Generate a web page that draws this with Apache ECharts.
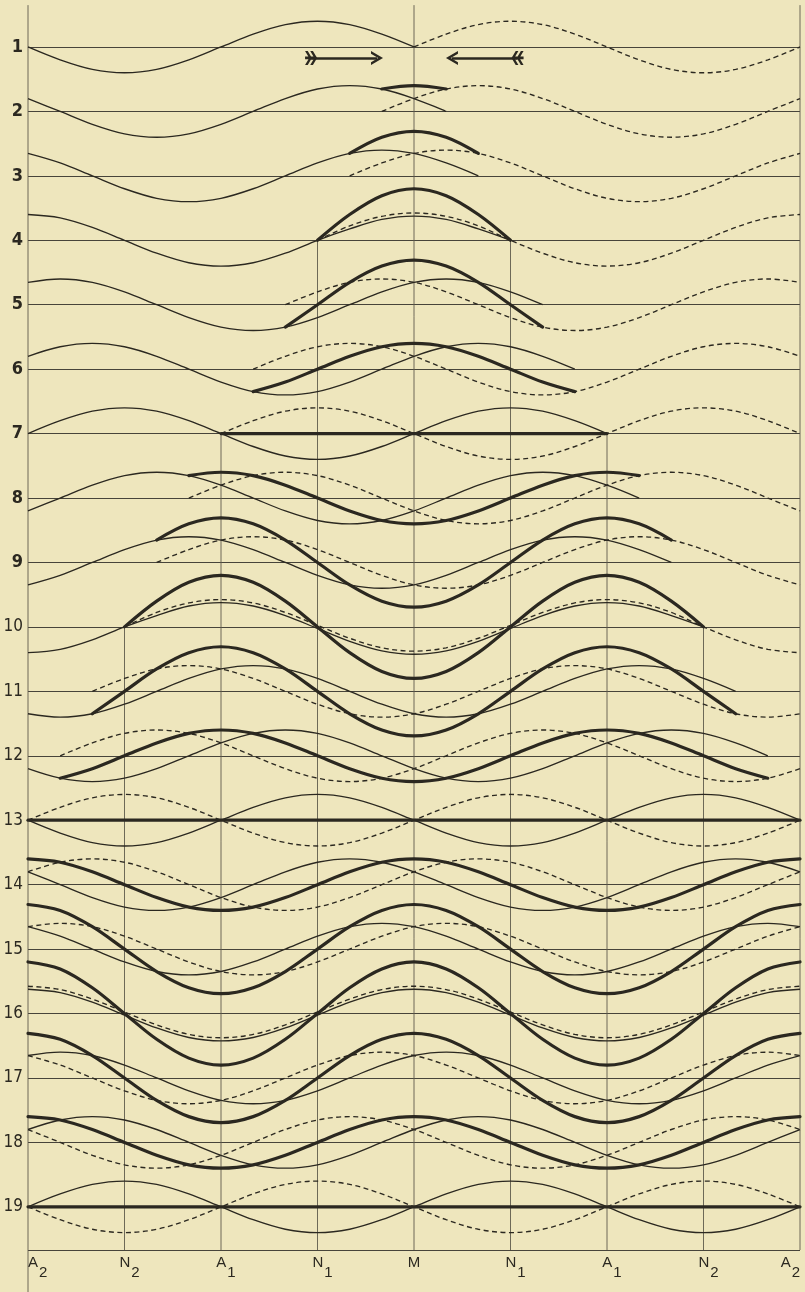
<!DOCTYPE html>
<html>
<head>
<meta charset="utf-8">
<script src="https://cdn.jsdelivr.net/npm/echarts@6/dist/echarts.min.js"></script>
<style>
html,body{margin:0;padding:0;background:#eee6bd;}
#chart{width:805px;height:1292px;}
</style>
</head>
<body>
<div id="chart"></div>
<script>
// ---------------- DATA ----------------
// Row numbers (time steps), 1..19
const rowNumbers = [1,2,3,4,5,6,7,8,9,10,11,12,13,14,15,16,17,18,19];

// Bottom axis: positions in twelfths of a wavelength (A2 = 0 ... M = 12 ... A2 = 24)
const xTickLetters = ['A','N','A','N','M','N','A','N','A'];
const xTickSubs    = ['2','2','1','1','','1','1','2','2'];

// Displacements (in wave amplitudes) sampled every 1/12 wavelength.
// Solid wave (travelling right): each row starts at x = 0.
const solidWave = [
  [0,-.5,-.87,-1,-.87,-.5,0,.5,.87,1,.87,.5,0],
  [.5,0,-.5,-.87,-1,-.87,-.5,0,.5,.87,1,.87,.5,0],
  [.87,.5,0,-.5,-.87,-1,-.87,-.5,0,.5,.87,1,.87,.5,0],
  [1,.87,.5,0,-.5,-.87,-1,-.87,-.5,0,.44,.81,.94,.81,.44,0],
  [.87,1,.87,.5,0,-.5,-.87,-1,-.87,-.5,0,.5,.87,1,.87,.5,0],
  [.5,.87,1,.87,.5,0,-.5,-.87,-1,-.87,-.5,0,.5,.87,1,.87,.5,0],
  [0,.5,.87,1,.87,.5,0,-.5,-.87,-1,-.87,-.5,0,.5,.87,1,.87,.5,0],
  [-.5,0,.5,.87,1,.87,.5,0,-.5,-.87,-1,-.87,-.5,0,.5,.87,1,.87,.5,0],
  [-.87,-.5,0,.5,.87,1,.87,.5,0,-.5,-.87,-1,-.87,-.5,0,.5,.87,1,.87,.5,0],
  [-1,-.87,-.5,0,.44,.81,.94,.81,.44,-.06,-.56,-.93,-1.06,-.93,-.56,-.06,.44,.81,.94,.81,.44,0],
  [-.87,-1,-.87,-.5,0,.5,.87,1,.87,.5,0,-.5,-.87,-1,-.87,-.5,0,.5,.87,1,.87,.5,0],
  [-.5,-.87,-1,-.87,-.5,0,.5,.87,1,.87,.5,0,-.5,-.87,-1,-.87,-.5,0,.5,.87,1,.87,.5,0],
  [0,-.5,-.87,-1,-.87,-.5,0,.5,.87,1,.87,.5,0,-.5,-.87,-1,-.87,-.5,0,.5,.87,1,.87,.5,0],
  [.5,0,-.5,-.87,-1,-.87,-.5,0,.5,.87,1,.87,.5,0,-.5,-.87,-1,-.87,-.5,0,.5,.87,1,.87,.5],
  [.87,.5,0,-.5,-.87,-1,-.87,-.5,0,.5,.87,1,.87,.5,0,-.5,-.87,-1,-.87,-.5,0,.5,.87,1,.87],
  [.94,.81,.44,-.06,-.56,-.93,-1.06,-.93,-.56,-.06,.44,.81,.94,.81,.44,-.06,-.56,-.93,-1.06,-.93,-.56,-.06,.44,.81,.94],
  [.87,1,.87,.5,0,-.5,-.87,-1,-.87,-.5,0,.5,.87,1,.87,.5,0,-.5,-.87,-1,-.87,-.5,0,.5,.87],
  [.5,.87,1,.87,.5,0,-.5,-.87,-1,-.87,-.5,0,.5,.87,1,.87,.5,0,-.5,-.87,-1,-.87,-.5,0,.5],
  [0,.5,.87,1,.87,.5,0,-.5,-.87,-1,-.87,-.5,0,.5,.87,1,.87,.5,0,-.5,-.87,-1,-.87,-.5,0]
];

// Dashed wave (travelling left): each row ends at x = 24.
const dashedWave = [
  [0,.5,.87,1,.87,.5,0,-.5,-.87,-1,-.87,-.5,0],
  [0,.5,.87,1,.87,.5,0,-.5,-.87,-1,-.87,-.5,0,.5],
  [0,.5,.87,1,.87,.5,0,-.5,-.87,-1,-.87,-.5,0,.5,.87],
  [0,.56,.93,1.06,.93,.56,0,-.5,-.87,-1,-.87,-.5,0,.5,.87,1],
  [0,.5,.87,1,.87,.5,0,-.5,-.87,-1,-.87,-.5,0,.5,.87,1,.87],
  [0,.5,.87,1,.87,.5,0,-.5,-.87,-1,-.87,-.5,0,.5,.87,1,.87,.5],
  [0,.5,.87,1,.87,.5,0,-.5,-.87,-1,-.87,-.5,0,.5,.87,1,.87,.5,0],
  [0,.5,.87,1,.87,.5,0,-.5,-.87,-1,-.87,-.5,0,.5,.87,1,.87,.5,0,-.5],
  [0,.5,.87,1,.87,.5,0,-.5,-.87,-1,-.87,-.5,0,.5,.87,1,.87,.5,0,-.5,-.87],
  [0,.56,.93,1.06,.93,.56,.06,-.44,-.81,-.94,-.81,-.44,.06,.56,.93,1.06,.93,.56,0,-.5,-.87,-1],
  [0,.5,.87,1,.87,.5,0,-.5,-.87,-1,-.87,-.5,0,.5,.87,1,.87,.5,0,-.5,-.87,-1,-.87],
  [0,.5,.87,1,.87,.5,0,-.5,-.87,-1,-.87,-.5,0,.5,.87,1,.87,.5,0,-.5,-.87,-1,-.87,-.5],
  [0,.5,.87,1,.87,.5,0,-.5,-.87,-1,-.87,-.5,0,.5,.87,1,.87,.5,0,-.5,-.87,-1,-.87,-.5,0],
  [.5,.87,1,.87,.5,0,-.5,-.87,-1,-.87,-.5,0,.5,.87,1,.87,.5,0,-.5,-.87,-1,-.87,-.5,0,.5],
  [.87,1,.87,.5,0,-.5,-.87,-1,-.87,-.5,0,.5,.87,1,.87,.5,0,-.5,-.87,-1,-.87,-.5,0,.5,.87],
  [1.06,.93,.56,.06,-.44,-.81,-.94,-.81,-.44,.06,.56,.93,1.06,.93,.56,.06,-.44,-.81,-.94,-.81,-.44,.06,.56,.93,1.06],
  [.87,.5,0,-.5,-.87,-1,-.87,-.5,0,.5,.87,1,.87,.5,0,-.5,-.87,-1,-.87,-.5,0,.5,.87,1,.87],
  [.5,0,-.5,-.87,-1,-.87,-.5,0,.5,.87,1,.87,.5,0,-.5,-.87,-1,-.87,-.5,0,.5,.87,1,.87,.5],
  [0,-.5,-.87,-1,-.87,-.5,0,.5,.87,1,.87,.5,0,-.5,-.87,-1,-.87,-.5,0,.5,.87,1,.87,.5,0]
];

// Resultant (thick) curve over the overlap; starts where the dashed wave starts.
const resultWave = [
  [],
  [.87,1,.87],
  [.87,1.5,1.73,1.5,.87],
  [0,1,1.73,2,1.73,1,0],
  [-.87,0,.87,1.5,1.73,1.5,.87,0,-.87],
  [-.87,-.5,0,.5,.87,1,.87,.5,0,-.5,-.87],
  [0,0,0,0,0,0,0,0,0,0,0,0,0],
  [.87,1,.87,.5,0,-.5,-.87,-1,-.87,-.5,0,.5,.87,1,.87],
  [.87,1.5,1.73,1.5,.87,0,-.87,-1.5,-1.73,-1.5,-.87,0,.87,1.5,1.73,1.5,.87],
  [0,1,1.73,2,1.73,1,0,-1,-1.73,-2,-1.73,-1,0,1,1.73,2,1.73,1,0],
  [-.87,0,.87,1.5,1.73,1.5,.87,0,-.87,-1.5,-1.73,-1.5,-.87,0,.87,1.5,1.73,1.5,.87,0,-.87],
  [-.87,-.5,0,.5,.87,1,.87,.5,0,-.5,-.87,-1,-.87,-.5,0,.5,.87,1,.87,.5,0,-.5,-.87],
  [0,0,0,0,0,0,0,0,0,0,0,0,0,0,0,0,0,0,0,0,0,0,0,0,0],
  [1,.87,.5,0,-.5,-.87,-1,-.87,-.5,0,.5,.87,1,.87,.5,0,-.5,-.87,-1,-.87,-.5,0,.5,.87,1],
  [1.73,1.5,.87,0,-.87,-1.5,-1.73,-1.5,-.87,0,.87,1.5,1.73,1.5,.87,0,-.87,-1.5,-1.73,-1.5,-.87,0,.87,1.5,1.73],
  [2,1.73,1,0,-1,-1.73,-2,-1.73,-1,0,1,1.73,2,1.73,1,0,-1,-1.73,-2,-1.73,-1,0,1,1.73,2],
  [1.73,1.5,.87,0,-.87,-1.5,-1.73,-1.5,-.87,0,.87,1.5,1.73,1.5,.87,0,-.87,-1.5,-1.73,-1.5,-.87,0,.87,1.5,1.73],
  [1,.87,.5,0,-.5,-.87,-1,-.87,-.5,0,.5,.87,1,.87,.5,0,-.5,-.87,-1,-.87,-.5,0,.5,.87,1],
  [0,0,0,0,0,0,0,0,0,0,0,0,0,0,0,0,0,0,0,0,0,0,0,0,0]
];

// Direction arrows in row 1 (x in twelfths of a wavelength)
const arrowTail = [8.8, 15.22];
const arrowHead = [10.85, 13.18];
const arrowRow = 1.17;

// Vertical guide lines: x position, first row where they begin, last row value
const guideX      = [0, 3, 6, 9, 12, 15, 18, 21, 24];
const guideFrom   = [0.35, 10, 7, 4, 0.35, 4, 7, 10, 0.35];
const guideTo     = [20.4, 19.67, 19.67, 19.67, 19.67, 19.67, 19.67, 19.67, 19.67];

// ---------------- STYLE ----------------
const INK = '#2b2820';
const AMP = 0.4;          // amplitude in row spacings
const NARROW = '"Liberation Sans Narrow","DejaVu Sans Condensed","Roboto Condensed","Open Sans",sans-serif';
const LETTER = '"Liberation Sans",Arial,sans-serif';

const common = {
  type: 'line', symbol: 'none', showSymbol: false, smooth: 0.34,
  silent: true, animation: false
};

const series = [];

guideX.forEach((x, k) => {
  series.push({
    type: 'line', symbol: 'none', silent: true, clip: false, z: 1,
    data: [[x, guideFrom[k]], [x, guideTo[k]]],
    lineStyle: { color: '#5e5a4c', width: 0.9 }
  });
});

rowNumbers.forEach((row, r) => {
  const dStart = 25 - dashedWave[r].length;
  series.push(Object.assign({}, common, {
    data: solidWave[r].map((v, i) => [i, row - v * AMP]),
    lineStyle: { color: INK, width: 1.35 }
  }));
  series.push(Object.assign({}, common, {
    data: dashedWave[r].map((v, j) => [dStart + j, row - v * AMP]),
    lineStyle: { color: INK, width: 1.35, type: [5, 3.5] }
  }));
  if (resultWave[r].length) {
    series.push(Object.assign({}, common, {
      data: resultWave[r].map((v, j) => [dStart + j, row - v * AMP]),
      lineStyle: { color: INK, width: 3.2, cap: 'round', join: 'round' },
      z: 3
    }));
  }
});

const HEAD = 'path://M0,10 L5,0 L10,10 L8,10 L5,4 L2,10 Z';
const TAIL = 'path://M0,0 L5,4 L10,0 L10,2.6 L5,6.6 L0,2.6 Z M0,5 L5,9 L10,5 L10,7.6 L5,11.6 L0,7.6 Z M4,0 L6,0 L6,11 L4,11 Z';

series.push({
  type: 'line', symbol: 'none', silent: true,
  data: [[arrowTail[0], arrowRow]],
  lineStyle: { opacity: 0 },
  markLine: {
    silent: true, animation: false,
    symbol: [TAIL, HEAD], symbolSize: [14, 12],
    label: { show: false },
    lineStyle: { color: INK, width: 2.6, type: 'solid' },
    data: arrowTail.map((t, k) => [{ coord: [t, arrowRow] }, { coord: [arrowHead[k], arrowRow] }])
  }
});

const chart = echarts.init(document.getElementById('chart'), null, { renderer: 'canvas' });
chart.setOption({
  backgroundColor: '#eee6bd',
  animation: false,
  grid: { left: 28, right: 5, top: -17.44, bottom: 42, containLabel: false, outerBoundsMode: 'none' },
  xAxis: {
    type: 'value', min: 0, max: 24, interval: 3, position: 'bottom',
    axisLine: { show: false }, axisTick: { show: false }, splitLine: { show: false },
    axisLabel: {
      show: true, margin: 10, color: INK,
      alignMinLabel: 'left', alignMaxLabel: 'right',
      formatter: function (v) {
        const k = Math.round(v / 3);
        const letter = xTickLetters[k], sub = xTickSubs[k];
        const pre = (k === 0 || k === 8 || !sub) ? '' : '{p|}';
        return pre + '{a|' + letter + '}' + (sub ? '{s|' + sub + '}' : '');
      },
      rich: {
        p: { width: 10 },
        a: { fontSize: 15, lineHeight: 16, padding: [0, 0, 10, 0], fontFamily: LETTER, color: INK },
        s: { fontSize: 15, lineHeight: 16, padding: [10, 0, 0, 1], fontFamily: LETTER, color: INK }
      }
    }
  },
  yAxis: {
    type: 'value', inverse: true, min: 0, max: 19.67, interval: 1,
    axisLine: { show: false }, axisTick: { show: false },
    splitLine: { show: true, lineStyle: { color: '#47443a', width: 1 } },
    axisLabel: {
      margin: 5, color: INK,
      formatter: function (v) {
        if (Math.abs(v - Math.round(v)) > 1e-6) return '';
        const n = Math.round(v);
        if (n < 1 || n > 19) return '';
        return (n < 10 ? '{b|' : '{n|') + n + '}';
      },
      rich: {
        b: { fontSize: 18, fontWeight: 'bold', fontFamily: NARROW, color: INK },
        n: { fontSize: 17, fontFamily: NARROW, color: INK }
      }
    }
  },
  series: series
});
</script>
</body>
</html>
